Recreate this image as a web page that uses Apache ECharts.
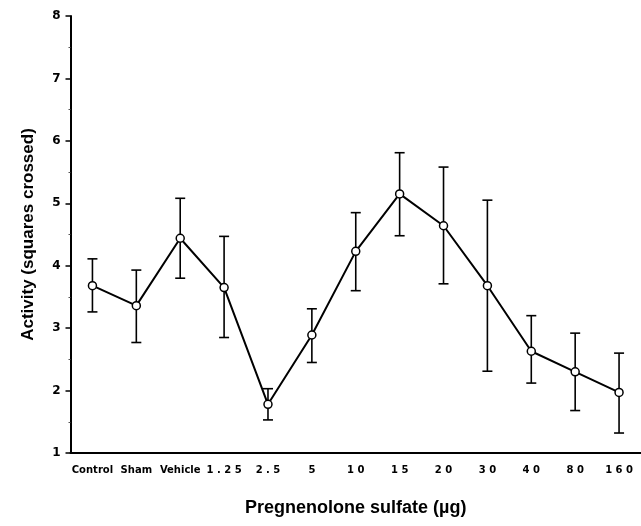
<!DOCTYPE html>
<html>
<head>
<meta charset="utf-8">
<script src="https://cdn.jsdelivr.net/npm/echarts@6/dist/echarts.min.js"></script>
<style>
  html, body { margin: 0; padding: 0; background: #fff; }
  #chart { width: 641px; height: 526px; }
</style>
</head>
<body>
<div id="chart"></div>
<script>
const categories = ['Control', 'Sham', 'Vehicle', '1.25', '2.5', '5', '10', '15', '20', '30', '40', '80', '160']
const means = [3.68, 3.36, 4.44, 3.65, 1.78, 2.89, 4.23, 5.15, 4.64, 3.68, 2.63, 2.30, 1.97]
const upper = [4.11, 3.93, 5.08, 4.47, 2.03, 3.31, 4.85, 5.81, 5.58, 5.05, 3.20, 2.92, 2.60]
const lower = [3.26, 2.77, 3.80, 2.85, 1.53, 2.45, 3.60, 4.48, 3.71, 2.31, 2.12, 1.68, 1.32]
const yTicks = [1, 2, 3, 4, 5, 6, 7, 8]

const tickFont = 'DejaVu Sans'
const titleFont = 'Liberation Sans'
const chart = echarts.init(document.getElementById('chart'))

// error bars: vertical line + two caps
function renderErrorBar(params, api) {
  const x = api.value(0)
  const top = api.coord([x, api.value(1)])
  const bot = api.coord([x, api.value(2)])
  const cap = 5
  const style = { stroke: '#000', lineWidth: 1.6 }
  return {
    type: 'group',
    children: [
      { type: 'line', shape: { x1: top[0], y1: top[1], x2: bot[0], y2: bot[1] }, style },
      { type: 'line', shape: { x1: top[0] - cap, y1: top[1], x2: top[0] + cap, y2: top[1] }, style },
      { type: 'line', shape: { x1: bot[0] - cap, y1: bot[1], x2: bot[0] + cap, y2: bot[1] }, style }
    ]
  }
}

const option = {
  backgroundColor: '#fff',
  animation: false,
  grid: { left: 70.5, top: 16, width: 576, height: 437 },
  xAxis: {
    type: 'category',
    data: categories,
    boundaryGap: true,
    axisLine: { lineStyle: { color: '#000', width: 2 } },
    axisTick: { alignWithLabel: true, length: 4, lineStyle: { color: '#000', width: 1.5 } },
    axisLabel: {
      color: '#000',
      fontFamily: tickFont,
      fontWeight: 'bold',
      fontSize: 10,
      margin: 12,
      interval: 0,
      // dose labels are letter-spaced in the original
      formatter: v => /^[0-9.]+$/.test(v) ? v.split('').join(' ') : v
    },
    name: 'Pregnenolone sulfate (\u00b5g)',
    nameLocation: 'middle',
    nameGap: 46,
    nameTextStyle: { color: '#000', fontFamily: titleFont, fontWeight: 'bold', fontSize: 18 }
  },
  yAxis: {
    type: 'value',
    min: yTicks[0],
    max: yTicks[yTicks.length - 1],
    interval: 1,
    axisLine: { show: true, lineStyle: { color: '#000', width: 2 } },
    axisTick: { show: true, length: 5, lineStyle: { color: '#000', width: 1.5 } },
    minorTick: { show: true, splitNumber: 2, length: 2, lineStyle: { color: '#555', width: 1 } },
    splitLine: { show: false },
    axisLabel: {
      color: '#000',
      fontFamily: tickFont,
      fontWeight: 'bold',
      fontSize: 12,
      margin: 10
    },
    name: 'Activity (squares crossed)',
    nameLocation: 'middle',
    nameRotate: 90,
    nameGap: 34,
    nameTextStyle: { color: '#000', fontFamily: titleFont, fontWeight: 'bold', fontSize: 17 }
  },
  series: [
    {
      type: 'custom',
      renderItem: renderErrorBar,
      data: categories.map((c, i) => [i, upper[i], lower[i]]),
      encode: { x: 0, y: [1, 2] },
      z: 1
    },
    {
      type: 'line',
      data: means,
      symbol: 'circle',
      symbolSize: 8,
      lineStyle: { color: '#000', width: 2 },
      itemStyle: { color: '#fff', borderColor: '#000', borderWidth: 1.5 },
      z: 3
    }
  ]
}
chart.setOption(option)
</script>
</body>
</html>
